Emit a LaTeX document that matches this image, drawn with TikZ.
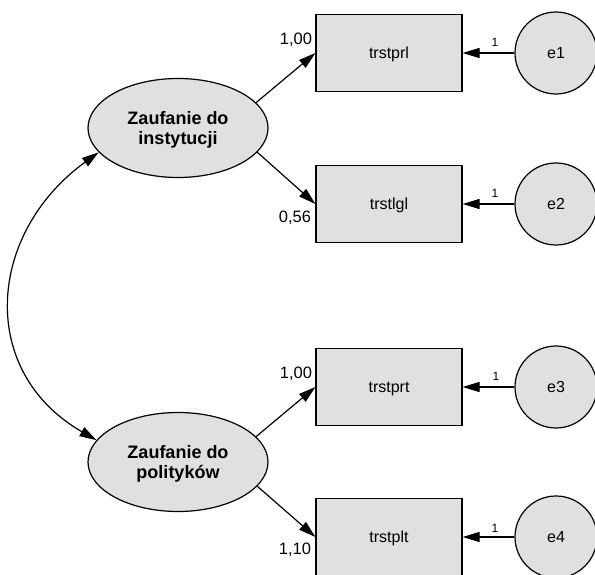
\documentclass[tikz,border=0pt]{standalone}
\usepackage{fontspec}
\setmainfont{Liberation Sans}
\usetikzlibrary{arrows.meta,shapes.geometric}

\definecolor{boxgray}{gray}{0.88}

\tikzset{
  latent/.style={ellipse,draw,fill=boxgray,minimum width=180pt,minimum height=99pt,
    inner sep=0pt,align=center,text depth=0pt,font=\fontsize{18}{20}\selectfont\bfseries},
  observed/.style={rectangle,draw,fill=boxgray,minimum width=146pt,minimum height=77pt,
    text depth=0pt,font=\fontsize{16}{18}\selectfont},
  errvar/.style={circle,draw,fill=boxgray,minimum size=82pt,inner sep=0pt,
    font=\fontsize{16}{18}\selectfont},
  loading/.style={font=\fontsize{16.5}{18}\selectfont},
  fixed/.style={font=\fontsize{12}{13}\selectfont},
}

\begin{document}
\begin{tikzpicture}[>={Triangle[length=17pt,width=10pt]},x=1pt,y=1pt,line width=1.2pt]
\useasboundingbox (0,0) rectangle (595,-575);

\node[latent] (inst) at (178,-128) {Zaufanie do\\instytucji};
\node[latent] (pol) at (178,-462) {Zaufanie do\\polityków};

\node[observed] (prl) at (389,-53) {trstprl};
\node[observed] (lgl) at (389,-204) {trstlgl};
\node[observed] (prt) at (389,-387) {trstprt};
\node[observed] (plt) at (389,-537) {trstplt};

\node[errvar] (e1) at (556,-53) {e1};
\node[errvar] (e2) at (556,-204) {e2};
\node[errvar] (e3) at (556,-387) {e3};
\node[errvar] (e4) at (556,-537) {e4};

\draw[->] (inst.18) -- (prl.west);
\draw[->] (inst.343) -- (lgl.west);
\draw[->] (pol.18) -- (prt.west);
\draw[->] (pol.343) -- (plt.west);

\node[loading] (l1) at (296,-40) {1,00};
\node[loading] (l2) at (295,-218) {0,56};
\node[loading] (l3) at (296,-374) {1,00};
\node[loading] (l4) at (295,-550) {1,10};

\draw[->] (e1.west) -- (prl.east);
\draw[->] (e2.west) -- (lgl.east);
\draw[->] (e3.west) -- (prt.east);
\draw[->] (e4.west) -- (plt.east);

\node[fixed] (f1) at (495,-42) {1};
\node[fixed] (f2) at (495,-193) {1};
\node[fixed] (f3) at (496,-376) {1};
\node[fixed] (f4) at (495,-528) {1};

\draw[<->] (inst.197) to[out=216,in=150,distance=138pt] (pol.165);

\end{tikzpicture}
\end{document}
